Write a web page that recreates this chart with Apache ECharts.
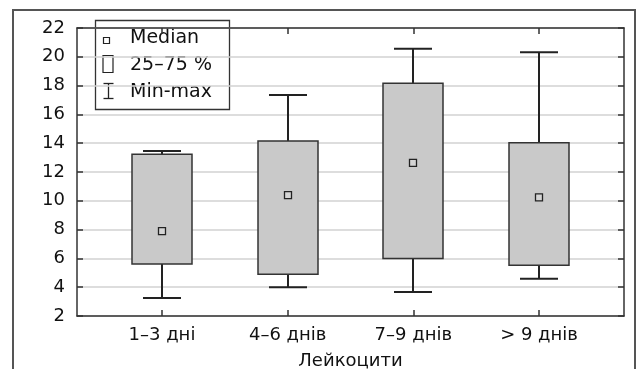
<!DOCTYPE html>
<html>
<head>
<meta charset="utf-8">
<script src="https://cdn.jsdelivr.net/npm/echarts@6/dist/echarts.min.js"></script>
<style>
html,body{margin:0;padding:0;background:#fff;}
#chart{width:640px;height:369px;}
</style>
</head>
<body>
<div id="chart"></div>
<script>
// ---- data ----
const categories = ['1–3 дні', '4–6 днів', '7–9 днів', '> 9 днів'];
const minVals = [3.25, 3.99, 3.67, 4.59];
const q1Vals = [5.61, 4.90, 6.00, 5.52];
const medianVals = [7.90, 10.40, 12.63, 10.24];
const q3Vals = [13.23, 14.15, 18.16, 14.03];
const maxVals = [13.46, 17.35, 20.56, 20.31];
const yTicks = [2, 4, 6, 8, 10, 12, 14, 16, 18, 20, 22];
const legendLabels = ['Median', '25–75 %', 'Min-max'];
const axisName = 'Лейкоцити';

const positions = categories.map((c, i) => i + 1);
const boxData = categories.map((c, i) => [positions[i], minVals[i], q1Vals[i], medianVals[i], q3Vals[i], maxVals[i]]);

const FONT = '"DejaVu Sans", sans-serif';
const TXT = '#111';
const chart = echarts.init(document.getElementById('chart'), null, {renderer: 'canvas'});

const xCommon = {
  type: 'value', min: 0.324, max: 4.676,
  axisLine: {show: true, lineStyle: {color: '#333', width: 1.5}},
  axisTick: {show: true, inside: true, length: 6, customValues: positions, lineStyle: {color: '#333', width: 1.5}},
  splitLine: {show: false}
};
const yCommon = {
  type: 'value', min: yTicks[0], max: yTicks[yTicks.length - 1], interval: 2,
  axisLine: {show: true, lineStyle: {color: '#333', width: 1.5}},
  axisTick: {show: true, inside: true, length: 6, lineStyle: {color: '#333', width: 1.5}}
};

chart.setOption({
  animation: false,
  backgroundColor: '#fff',
  grid: {left: 77, top: 28, right: 16, bottom: 53, containLabel: false, outerBoundsMode: 'none'},
  xAxis: [
    Object.assign({}, xCommon, {
      position: 'bottom',
      name: axisName, nameLocation: 'middle', nameGap: 36,
      nameTextStyle: {fontFamily: FONT, fontSize: 18, color: TXT},
      axisLabel: {show: true, customValues: positions, margin: 10, fontFamily: FONT, fontSize: 18, color: TXT,
        formatter: v => categories[Math.round(v) - 1] || ''}
    }),
    Object.assign({}, xCommon, {position: 'top', axisLabel: {show: false}})
  ],
  yAxis: [
    Object.assign({}, yCommon, {
      position: 'left',
      axisLabel: {show: true, margin: 12, fontFamily: FONT, fontSize: 18, color: TXT},
      splitLine: {show: true, lineStyle: {color: '#d2d2d2', width: 1.5}}
    }),
    Object.assign({}, yCommon, {position: 'right', axisLabel: {show: false}, splitLine: {show: false}})
  ],
  series: [{
    type: 'custom',
    xAxisIndex: 0, yAxisIndex: 0,
    data: boxData,
    renderItem: function (params, api) {
      const x = api.value(0);
      const pMin = api.coord([x, api.value(1)]);
      const pQ1 = api.coord([x, api.value(2)]);
      const pMed = api.coord([x, api.value(3)]);
      const pQ3 = api.coord([x, api.value(4)]);
      const pMax = api.coord([x, api.value(5)]);
      const cx = Math.round(pMin[0]);
      const bw = 60, cw = 38, ms = 7;
      const ls = {stroke: '#222', lineWidth: 2};
      return {
        type: 'group',
        children: [
          {type: 'line', shape: {x1: cx, y1: pMax[1], x2: cx, y2: pQ3[1]}, style: ls},
          {type: 'line', shape: {x1: cx, y1: pQ1[1], x2: cx, y2: pMin[1]}, style: ls},
          {type: 'line', shape: {x1: cx - cw / 2, y1: pMax[1], x2: cx + cw / 2, y2: pMax[1]}, style: ls},
          {type: 'line', shape: {x1: cx - cw / 2, y1: pMin[1], x2: cx + cw / 2, y2: pMin[1]}, style: ls},
          {type: 'rect', shape: {x: cx - bw / 2, y: pQ3[1], width: bw, height: pQ1[1] - pQ3[1]},
            style: {fill: '#c9c9c9', stroke: '#333', lineWidth: 1.5}},
          {type: 'rect', shape: {x: cx - ms / 2, y: pMed[1] - ms / 2, width: ms, height: ms},
            style: {fill: '#d4d4d4', stroke: '#222', lineWidth: 1.3}}
        ]
      };
    }
  }],
  graphic: [
    {type: 'polyline', z: 100, shape: {points: [[13, 369], [13, 10], [635, 10], [635, 369]]},
      style: {stroke: '#555', lineWidth: 2, fill: null}},
    {type: 'group', z: 100, children: [
      {type: 'rect', shape: {x: 95.5, y: 20.5, width: 134, height: 89}, style: {fill: '#fff', stroke: '#333', lineWidth: 1.3}},
      {type: 'rect', shape: {x: 103.5, y: 37.5, width: 6, height: 6}, style: {fill: '#fff', stroke: '#222', lineWidth: 1.2}},
      {type: 'rect', shape: {x: 103, y: 55.5, width: 10, height: 17}, style: {fill: '#fff', stroke: '#222', lineWidth: 1.2}},
      {type: 'line', shape: {x1: 108.5, y1: 83.5, x2: 108.5, y2: 98.5}, style: {stroke: '#222', lineWidth: 1.3}},
      {type: 'line', shape: {x1: 103.5, y1: 83.5, x2: 113.5, y2: 83.5}, style: {stroke: '#222', lineWidth: 1.3}},
      {type: 'line', shape: {x1: 103.5, y1: 98.5, x2: 113.5, y2: 98.5}, style: {stroke: '#222', lineWidth: 1.3}},
      {type: 'text', style: {x: 130, y: 38, text: legendLabels[0], fontFamily: FONT, fontSize: 19, fill: TXT, verticalAlign: 'middle'}},
      {type: 'text', style: {x: 130, y: 65, text: legendLabels[1], fontFamily: FONT, fontSize: 19, fill: TXT, verticalAlign: 'middle'}},
      {type: 'text', style: {x: 130, y: 92, text: legendLabels[2], fontFamily: FONT, fontSize: 19, fill: TXT, verticalAlign: 'middle'}}
    ]}
  ]
});
</script>
</body>
</html>
